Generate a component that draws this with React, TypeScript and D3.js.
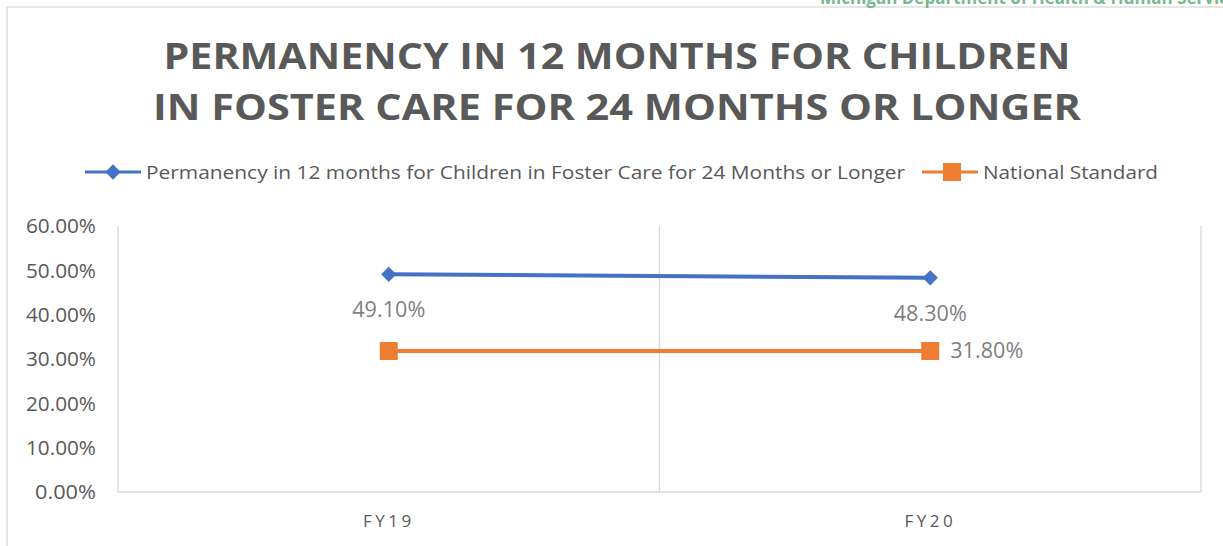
import React from "react";
import * as d3 from "d3";

const WIDTH = 1223;
const HEIGHT = 546;
const MARGIN = { top: 226, right: 22, bottom: 54, left: 118 };

const categories = ["FY19", "FY20"];
const permanency = [0.491, 0.483];
const nationalStandard = [0.318, 0.318];
const yTicks = [0, 0.1, 0.2, 0.3, 0.4, 0.5, 0.6];

const titleLines = [
  "PERMANENCY IN 12 MONTHS FOR CHILDREN",
  "IN FOSTER CARE FOR 24 MONTHS OR LONGER",
];
const seriesNames = [
  "Permanency in 12 months for Children in Foster Care for 24 Months or Longer",
  "National Standard",
];

const BLUE = "#4472c4";
const ORANGE = "#ed7d31";
const GRID = "#d9d9d9";
const TEXT = "#595959";
const FONT = "'Open Sans', 'Liberation Sans', sans-serif";

const App = () => {
  const boundsWidth = WIDTH - MARGIN.left - MARGIN.right;
  const boundsHeight = HEIGHT - MARGIN.top - MARGIN.bottom;

  const xScale = d3.scaleBand().domain(categories).range([0, boundsWidth]);
  const yScale = d3.scaleLinear().domain([0, 0.6]).range([boundsHeight, 0]);
  const xc = (c: string) => (xScale(c) ?? 0) + xScale.bandwidth() / 2;

  const line = d3
    .line<number>()
    .x((_, i) => xc(categories[i]))
    .y((d) => yScale(d));

  const fmt = d3.format(".2%");
  const diamond = d3.symbol(d3.symbolDiamond2, 150)() as string;

  return (
    <svg
      width={WIDTH}
      height={HEIGHT}
      style={{ position: "absolute", left: 0, top: 0, background: "white" }}
    >
      {/* chart frame */}
      <rect x={7} y={7} width={1300} height={600} fill="white" stroke={GRID} strokeWidth={1.3} />

      {/* header from the page above, only its lower part shows */}
      <text x={820} y={4} fill="#3f9b5e" fontSize={17} fontWeight="bold" fontFamily={FONT} opacity={0.7}>
        Michigan Department of Health &amp; Human Services
      </text>

      {/* title */}
      {titleLines.map((t, i) => (
        <text
          key={i}
          x={617}
          y={69 + i * 51}
          textAnchor="middle"
          fill={TEXT}
          fontSize={35}
          fontWeight="bold"
          fontFamily={FONT}
          textLength={i === 0 ? 907 : 928}
          lengthAdjust="spacingAndGlyphs"
        >
          {t}
        </text>
      ))}

      {/* legend */}
      <g fontFamily={FONT} fontSize={19} fill={TEXT}>
        <line x1={85} x2={141} y1={172} y2={172} stroke={BLUE} strokeWidth={3} />
        <path d={diamond} transform="translate(113,172)" fill={BLUE} />
        <text x={146} y={179} textLength={759} lengthAdjust="spacingAndGlyphs">
          {seriesNames[0]}
        </text>
        <line x1={922} x2={978} y1={172} y2={172} stroke={ORANGE} strokeWidth={3} />
        <rect x={943} y={163} width={18} height={18} fill={ORANGE} />
        <text x={983} y={179} textLength={175} lengthAdjust="spacingAndGlyphs">
          {seriesNames[1]}
        </text>
      </g>

      <g transform={`translate(${MARGIN.left},${MARGIN.top})`}>
        {/* vertical gridlines at category boundaries */}
        {[...categories.map((c) => xScale(c) ?? 0), boundsWidth].map((x, i) => (
          <line key={i} x1={x} x2={x} y1={0} y2={boundsHeight} stroke={GRID} strokeWidth={1.3} />
        ))}
        <line x1={0} x2={boundsWidth} y1={boundsHeight} y2={boundsHeight} stroke={GRID} strokeWidth={1.3} />

        {/* y axis labels */}
        {yTicks.map((t) => (
          <text
            key={t}
            x={-22}
            y={yScale(t)}
            dy="0.35em"
            textAnchor="end"
            fill={TEXT}
            fontSize={20.5}
            fontFamily={FONT}
            textLength={t < 0.1 ? 61 : 70}
            lengthAdjust="spacingAndGlyphs"
          >
            {fmt(t)}
          </text>
        ))}

        {/* x axis labels */}
        {categories.map((c) => (
          <text
            key={c}
            x={xc(c)}
            y={boundsHeight + 35}
            textAnchor="middle"
            fill={TEXT}
            fontSize={17}
            letterSpacing={3.5}
            fontFamily={FONT}
          >
            {c}
          </text>
        ))}

        {/* series */}
        <path d={line(permanency) ?? ""} fill="none" stroke={BLUE} strokeWidth={4} />
        <path d={line(nationalStandard) ?? ""} fill="none" stroke={ORANGE} strokeWidth={4} />

        {permanency.map((v, i) => (
          <g key={"p" + i}>
            <path d={diamond} transform={`translate(${xc(categories[i])},${yScale(v)})`} fill={BLUE} />
            <text
              x={xc(categories[i])}
              y={yScale(v) + 43}
              textAnchor="middle"
              fill="#7f7f7f"
              fontSize={21}
              fontFamily={FONT}
              textLength={73}
              lengthAdjust="spacingAndGlyphs"
            >
              {fmt(v)}
            </text>
          </g>
        ))}
        {nationalStandard.map((v, i) => (
          <rect
            key={"n" + i}
            x={xc(categories[i]) - 9}
            y={yScale(v) - 9}
            width={18}
            height={18}
            fill={ORANGE}
          />
        ))}
        <text
          x={xc(categories[1]) + 20}
          y={yScale(nationalStandard[1])}
          dy="0.35em"
          fill="#7f7f7f"
          fontSize={21}
          fontFamily={FONT}
          textLength={73}
          lengthAdjust="spacingAndGlyphs"
        >
          {fmt(nationalStandard[1])}
        </text>
      </g>
    </svg>
  );
};

export default App;
